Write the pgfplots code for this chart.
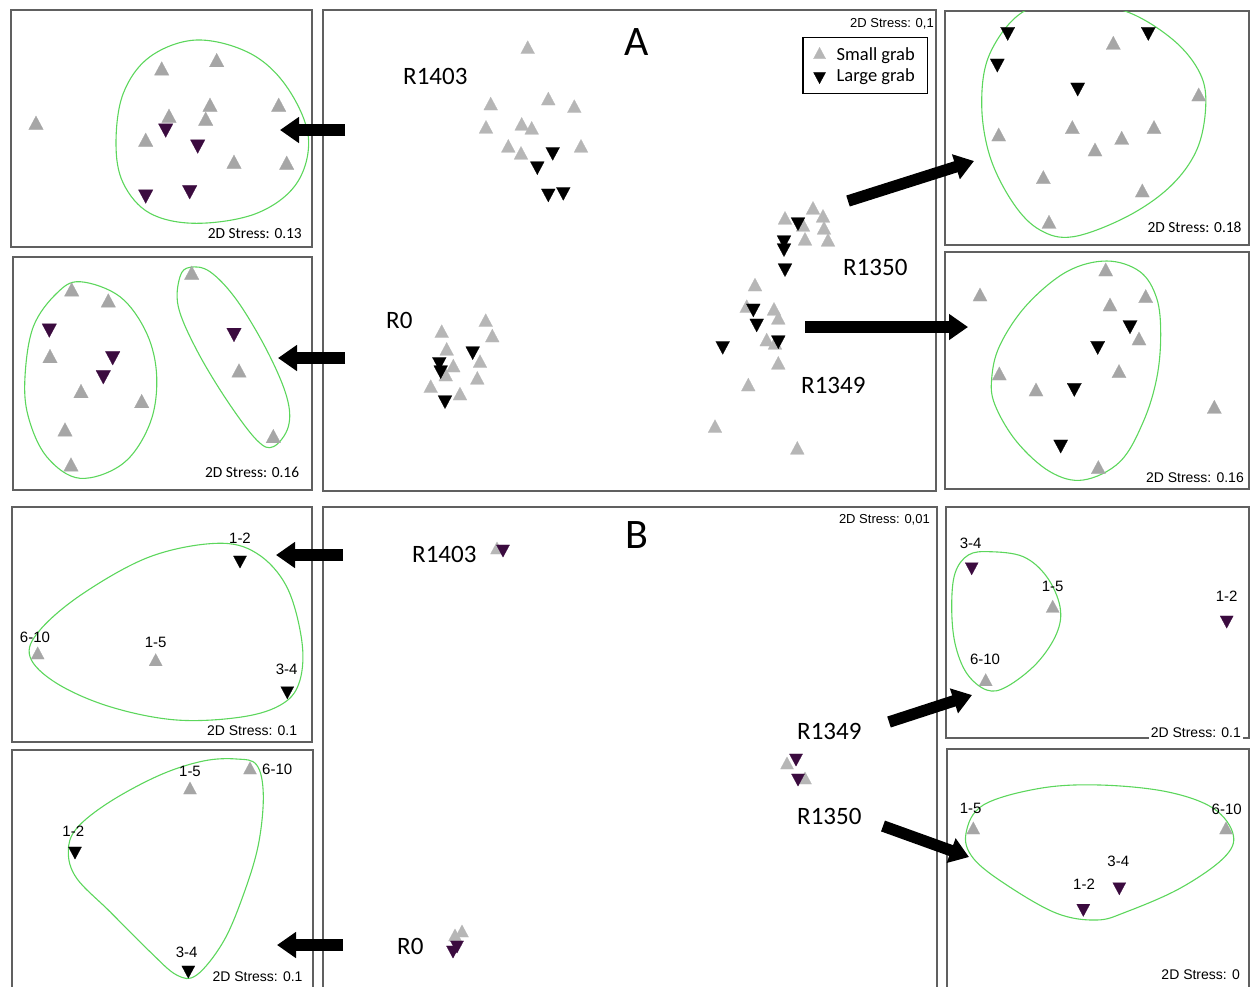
\documentclass[border=0pt]{standalone}
\usepackage{fontspec}
\setmainfont{Carlito}
\newfontfamily\arial{Liberation Sans}
\usepackage{pgfplots}
\pgfplotsset{compat=1.18}
\usetikzlibrary{arrows.meta}
\definecolor{gtri}{HTML}{A6A6A6}
\definecolor{ltri}{HTML}{B6B6B6}
\definecolor{ptri}{HTML}{3B0B3F}
\definecolor{ellc}{HTML}{5CD65C}
\definecolor{frame}{HTML}{606060}
\newcommand{\fs}[1]{\fontsize{#1}{#1}\selectfont}
\tikzset{
  stressC/.style={anchor=east, font=\fs{15.4}, inner sep=0pt},
  stressA/.style={anchor=east, font=\arial\fs{14}, inner sep=0pt},
  num/.style={font=\arial\fs{15}, inner sep=0pt},
  site/.style={anchor=west, font=\fs{25}, inner sep=0pt},
  big/.style={font=\fs{42}, inner sep=0pt},
}
\pgfplotsset{
  panel/.style={scale only axis, anchor=center, ticks=none, y dir=reverse,
    axis line style={draw=frame, line width=1.1pt}, clip=true},
  up/.style={only marks, mark=triangle*, mark size=#1, color=gtri, mark options={yscale=1.08, line width=0.2pt}},
  dn/.style={only marks, mark=triangle*, mark size=#1, color=ptri, mark options={rotate=180, yscale=1.08, line width=0.2pt}},
  ell/.style={color=ellc, line width=1.1pt, no marks, smooth cycle, tension=0.6},
  arr/.style={black, line width=11.5pt, no marks, -{Triangle[length=19pt,width=25pt]}},
}
\begin{document}
\begin{tikzpicture}
\useasboundingbox (0pt,0pt) rectangle (1250pt,-986pt);
\clip (0pt,0pt) rectangle (1250pt,-986pt);

% ---------- P1: A top-left ----------
\begin{axis}[panel, at={(161.5pt,-128.5pt)}, width=301pt, height=237pt,
  xmin=11, xmax=312, ymin=10, ymax=247]
\addplot[ell] coordinates {(196.7,40) (250,53.3) (286.7,86.7) (308.3,136.7) (296.7,183.3) (256.7,213.3) (196.7,223.3) (150,213.3) (123.3,183.3) (116,143.3) (123.3,93.3) (150,56.7)};
\addplot[up=8.4pt] coordinates {(36,125) (161.7,70.7) (216.7,62.3) (210,107) (169,118) (205.7,121) (278.7,107) (145.7,142) (234,164) (286.7,165)};
\addplot[dn=8.4pt] coordinates {(165.7,128.3) (197.7,144.3) (145.7,194.3) (189.7,190)};
\node[stressC] at (axis cs:302,234) {2D Stress: 0.13};
\end{axis}

% ---------- P2: A mid-left ----------
\begin{axis}[panel, at={(162.5pt,-373.5pt)}, width=299pt, height=233pt,
  xmin=13, xmax=312, ymin=257, ymax=490]
\addplot[ell] coordinates {(80,281.7) (120,296.7) (146.7,333.3) (156.7,376.7) (150,423.3) (123.3,463.3) (80,478.3) (46.7,456.7) (28.3,416.7) (25,376.7) (33.3,326.7) (56.7,293.3)};
\addplot[ell] coordinates {(190,267.3) (210,271.7) (236.7,300) (266.7,350) (286.7,396.7) (288.3,426.7) (273.3,446.7) (256.7,440) (226.7,400) (196.7,350) (178.3,306.7) (180,276.7)};
\addplot[up=8.4pt] coordinates {(71.7,291.7) (108.3,302.7) (50,358.3) (81,393.3) (141.7,403.3) (65,431.7) (71,466.7) (191.7,275) (239,372.7) (273.3,438.3)};
\addplot[dn=8.4pt] coordinates {(49.3,328.3) (112.7,356) (103.3,375) (234,332.7)};
\node[stressC] at (axis cs:299.3,472) {2D Stress: 0.16};
\end{axis}

% ---------- P3: A centre ----------
\begin{axis}[panel, at={(629.5pt,-250.5pt)}, width=613pt, height=481pt,
  xmin=323, xmax=936, ymin=10, ymax=491,
  legend style={at={(axis cs:928,37)}, anchor=north east, draw=black, line width=1.4pt,
    font=\fs{18.5}, inner xsep=10.5pt, inner ysep=8pt, row sep=3pt, column sep=9pt, cells={anchor=west}},
  legend image post style={line width=0.2pt, mark size=7pt}]
\addplot[only marks, mark=triangle*, mark size=8pt, color=ltri, mark options={yscale=1.08, line width=0.2pt}] coordinates {
 (527.7,49.3) (490.7,105.7) (548.3,100.7) (574.3,108.3) (486,129) (521.7,126) (531.7,130) (508.3,148) (521,155) (581,148)
 (441.7,333.3) (485.7,322.3) (492.3,337.7) (446.7,351) (453.3,367.7) (480,363.3) (445.7,376.7) (430.7,388.3) (477.3,380) (460,395.7)
 (785,220) (813,210) (803,227) (823,218) (824,230) (828,242) (805,241)
 (755,286.7) (746.7,308.3) (774,311) (778.3,320) (766.7,341.7) (775,345) (778.3,365) (748.3,386.7) (715,428.3) (797.3,450)};
\addlegendentry{Small grab}
\addplot[only marks, mark=triangle*, mark size=8pt, color=black, mark options={rotate=180, yscale=1.08, line width=0.2pt}] coordinates {
 (552.7,151.7) (537.3,166) (548.3,193.3) (563.3,191.7)
 (439.3,361.7) (440.7,370) (472.7,351) (445,400)
 (798,222) (784,240) (784,248) (785,268)
 (753.3,308.3) (756.7,323.3) (778.3,340) (722.7,345.7)};
\addlegendentry{Large grab}
\node[site] at (axis cs:403,76) {R1403};
\node[site] at (axis cs:386,320) {R0};
\node[site] at (axis cs:843,267) {R1350};
\node[site] at (axis cs:801,385) {R1349};
\node[big] at (axis cs:637,42) {A};
\node[anchor=east, font=\arial\fs{13}, inner sep=0pt] at (axis cs:934,24) {2D Stress: 0,1};
\end{axis}

% ---------- P4: A top-right ----------
\begin{axis}[panel, at={(1097pt,-128pt)}, width=304pt, height=234pt,
  xmin=945, xmax=1249, ymin=11, ymax=245]
\addplot[ell] coordinates {(1023.3,11.7) (1073.3,3.3) (1126.7,11.7) (1173.3,40) (1200,73.3) (1205.7,106.7) (1196.7,150) (1170,186.7) (1126.7,216.7) (1073.3,236.7) (1040,230) (1013.3,203.3) (990,156.7) (981.7,103.3) (990,53.3)};
\addplot[up=8.2pt] coordinates {(1113.3,45) (1198.7,96.7) (998.7,136.7) (1072.3,129.3) (1154,129.3) (1121.7,140) (1095,151.7) (1043.3,179.3) (1142.3,192.7) (1049,224)};
\addplot[dn=8.2pt, color=black] coordinates {(1007.7,31.7) (1148.3,31.7) (997.3,63.3) (1077.7,87.3)};
\node[stressC] at (axis cs:1241.7,227) {2D Stress: 0.18};
\end{axis}

% ---------- P5: A mid-right ----------
\begin{axis}[panel, at={(1097pt,-370.5pt)}, width=304pt, height=237pt,
  xmin=945, xmax=1249, ymin=252, ymax=489]
\addplot[ell] coordinates {(1106.7,261) (1140,271.7) (1156.7,298.3) (1160.7,335) (1156.7,378.3) (1143.3,421.7) (1120,461.7) (1083.3,480) (1050,471.7) (1016.7,441.7) (995,405) (991.7,378.3) (1000,345) (1026.7,305) (1066.7,271.7)};
\addplot[up=8.2pt] coordinates {(980,296.7) (1105.7,271.7) (1110,306.7) (1145.7,298.3) (1139,340.7) (1119,373.3) (999.3,375.7) (1036,391.7) (1214.3,409) (1098.3,469.3)};
\addplot[dn=8.2pt, color=black] coordinates {(1130,325) (1097.7,345.7) (1074.3,387.7) (1060.7,444.3)};
\node[stressA] at (axis cs:1244,478) {2D Stress: 0.16};
\end{axis}

% ---------- P6: B top-left ----------
\begin{axis}[panel, at={(162pt,-624.5pt)}, width=300pt, height=235pt,
  xmin=12, xmax=312, ymin=507, ymax=742]
\addplot[ell] coordinates {(216.7,543.3) (256.7,553.3) (286.7,586.7) (301.7,640) (300,680) (283.3,703.3) (243.3,716.7) (176.7,720) (110,706.7) (56.7,683.3) (30,656.7) (40,630) (83.3,593.3) (150,556.7)};
\addplot[up=7.6pt] coordinates {(37.7,655) (155.7,661.7)};
\addplot[dn=7.6pt, color=black] coordinates {(240,560) (287.3,690.7)};
\node[num] at (axis cs:35,637) {6-10};
\node[num] at (axis cs:155.7,642.5) {1-5};
\node[num] at (axis cs:240,538.5) {1-2};
\node[num] at (axis cs:286.7,669) {3-4};
\node[stressA] at (axis cs:297.3,731) {2D Stress: 0.1};
\end{axis}

% ---------- P7: B bottom-left ----------
\begin{axis}[panel, at={(162.5pt,-871pt)}, width=301pt, height=242pt,
  xmin=12, xmax=313, ymin=750, ymax=992]
\addplot[ell] coordinates {(236.7,759) (256.7,765) (263.3,795) (258.3,845) (243.3,895) (223.3,941.7) (196.7,975) (176.7,975) (150,951.7) (110,911.7) (76.7,878.3) (68.3,851.7) (76.7,828.3) (110,801.7) (160,775) (203.3,761)};
\addplot[up=7.6pt] coordinates {(190,790) (250,770)};
\addplot[dn=7.6pt, color=black] coordinates {(75,851) (188.3,970)};
\node[num] at (axis cs:190,771) {1-5};
\node[num, anchor=west] at (axis cs:262,769) {6-10};
\node[num] at (axis cs:73.3,831.5) {1-2};
\node[num] at (axis cs:186.7,952) {3-4};
\node[stressA] at (axis cs:302.7,977) {2D Stress: 0.1};
\end{axis}

% ---------- P8: B centre ----------
\begin{axis}[panel, at={(630pt,-749.5pt)}, width=614pt, height=485pt,
  xmin=323, xmax=937, ymin=507, ymax=992]
\addplot[up=7.6pt, color=ltri] coordinates {(497,550) (787,765) (805,780) (455,937) (462,933)};
\addplot[dn=7.6pt] coordinates {(503,549) (796,758) (798,778) (453,950) (457,945)};
\node[site] at (axis cs:412,554) {R1403};
\node[site] at (axis cs:797,731) {R1349};
\node[site] at (axis cs:797,816) {R1350};
\node[site] at (axis cs:397,946) {R0};
\node[big] at (axis cs:637,535) {B};
\node[anchor=east, font=\arial\fs{13}, inner sep=0pt] at (axis cs:930,520) {2D Stress: 0,01};
\end{axis}

% ---------- P9: B top-right ----------
\begin{axis}[panel, at={(1097.5pt,-622.5pt)}, width=303pt, height=231pt,
  xmin=946, xmax=1249, ymin=507, ymax=738]
\addplot[ell] coordinates {(990,551.7) (1023.3,556.7) (1046.7,576.7) (1060,606.7) (1056.7,633.3) (1036.7,663.3) (1006.7,686.7) (986.7,690) (966.7,673.3) (955,643.3) (951.7,606.7) (955,573.3) (968.3,555)};
\addplot[up=7.6pt] coordinates {(1052.7,608.3) (985.7,681.7)};
\addplot[dn=7.6pt] coordinates {(971.7,566.7) (1226.7,620)};
\node[num] at (axis cs:970.7,543.3) {3-4};
\node[num] at (axis cs:1052.7,586.7) {1-5};
\node[num] at (axis cs:1226.7,596.7) {1-2};
\node[num] at (axis cs:985,659.3) {6-10};
\end{axis}
\begin{axis}[scale only axis, anchor=center, hide axis, y dir=reverse, clip=false,
  at={(1097.5pt,-622.5pt)}, width=303pt, height=231pt,
  xmin=946, xmax=1249, ymin=507, ymax=738]
\node[anchor=south east, font=\arial\fs{14}, fill=white, inner xsep=2pt, inner ysep=1.5pt] at (axis cs:1243,739.5) {2D Stress: 0.1};
\end{axis}

% ---------- P10: B bottom-right ----------
\begin{axis}[panel, at={(1098pt,-870.5pt)}, width=302pt, height=243pt,
  xmin=947, xmax=1249, ymin=749, ymax=992]
\addplot[ell] coordinates {(966,833.3) (983.3,805) (1040,788.3) (1100,785) (1166.7,791.7) (1213.3,808.3) (1233.3,835) (1223.3,858.3) (1180,888.3) (1126.7,911.7) (1096.7,920) (1056.7,913.3) (1006.7,885) (973.3,858.3)};
\addplot[up=7.6pt] coordinates {(973.3,830) (1226,830)};
\addplot[dn=7.6pt] coordinates {(1083.3,908.3) (1119.3,886.7)};
\node[num] at (axis cs:970.7,808.3) {1-5};
\node[num] at (axis cs:1226.7,809) {6-10};
\node[num] at (axis cs:1118.3,861.7) {3-4};
\node[num] at (axis cs:1084,884.3) {1-2};
\node[stressA] at (axis cs:1240,975) {2D Stress: 0};
\end{axis}

% ---------- arrows overlay ----------
\begin{axis}[scale only axis, anchor=center, hide axis, y dir=reverse, clip=false,
  at={(625pt,-493pt)}, width=1250pt, height=986pt,
  xmin=0, xmax=1250, ymin=0, ymax=986]
\addplot[arr] coordinates {(345,130) (280,130)};
\addplot[arr] coordinates {(345,358) (278,358)};
\addplot[arr] coordinates {(848,201) (974,161)};
\addplot[arr] coordinates {(805,327) (968,327)};
\addplot[arr] coordinates {(343,555) (276,555)};
\addplot[arr] coordinates {(343,945) (277,945)};
\addplot[arr] coordinates {(889,722) (972,695)};
\addplot[arr] coordinates {(883,826) (969,857)};
\end{axis}
\end{tikzpicture}
\end{document}
